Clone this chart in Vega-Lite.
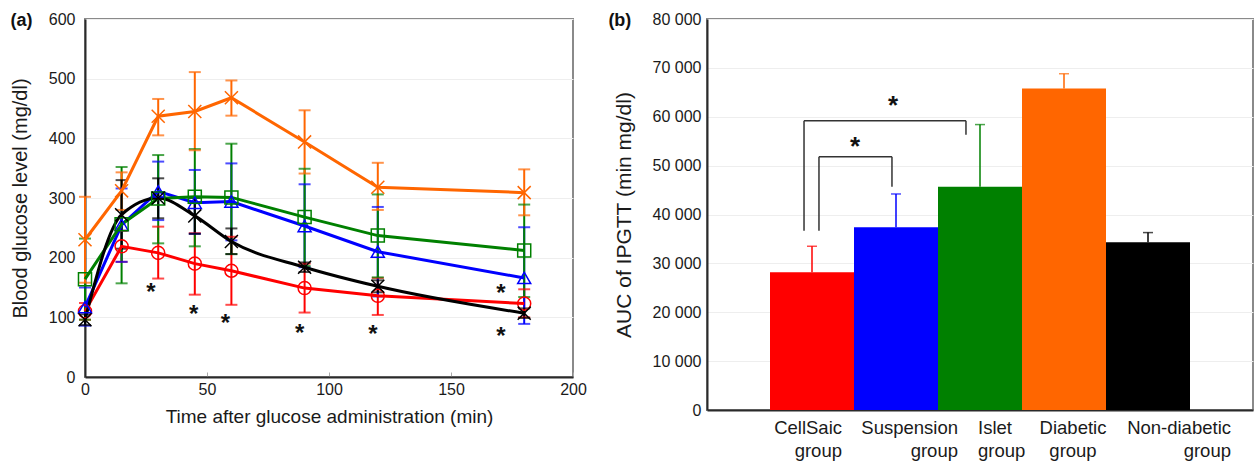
{
  "$schema": "https://vega.github.io/schema/vega-lite/v6.json",
  "background": "white",
  "padding": {"left": 9, "top": 10, "right": 0, "bottom": 0},
  "bounds": "flush",
  "spacing": 134,
  "config": {
    "font": "Liberation Sans",
    "view": {"stroke": "#8a8a8a", "strokeWidth": 2},
    "axis": {"labelFont": "Liberation Sans", "titleFont": "Liberation Sans", "labelColor": "#1a1a1a", "titleColor": "#1a1a1a", "titleFontWeight": "normal", "domainColor": "#2a2a2a", "domainWidth": 2, "gridColor": "#eeeeee", "gridWidth": 1, "labelFontSize": 16, "labelFlush": false}
  },
  "datasets": {
    "curves": [
      {"group": "CellSaic group", "time": 0, "value": 110, "lo": 96, "hi": 124},
      {"group": "CellSaic group", "time": 15, "value": 219, "lo": 193, "hi": 245},
      {"group": "CellSaic group", "time": 30, "value": 208, "lo": 165, "hi": 252},
      {"group": "CellSaic group", "time": 45, "value": 190, "lo": 138, "hi": 241},
      {"group": "CellSaic group", "time": 60, "value": 178, "lo": 121, "hi": 235},
      {"group": "CellSaic group", "time": 90, "value": 149, "lo": 108, "hi": 190},
      {"group": "CellSaic group", "time": 120, "value": 136, "lo": 104, "hi": 166},
      {"group": "CellSaic group", "time": 180, "value": 123, "lo": 100, "hi": 147},
      {"group": "Suspension group", "time": 0, "value": 117, "lo": 86, "hi": 150},
      {"group": "Suspension group", "time": 15, "value": 255, "lo": 193, "hi": 316},
      {"group": "Suspension group", "time": 30, "value": 311, "lo": 263, "hi": 361},
      {"group": "Suspension group", "time": 45, "value": 292, "lo": 240, "hi": 347},
      {"group": "Suspension group", "time": 60, "value": 294, "lo": 229, "hi": 358},
      {"group": "Suspension group", "time": 90, "value": 253, "lo": 184, "hi": 323},
      {"group": "Suspension group", "time": 120, "value": 210, "lo": 135, "hi": 285},
      {"group": "Suspension group", "time": 180, "value": 166, "lo": 89, "hi": 251},
      {"group": "Islet group", "time": 0, "value": 164, "lo": 96, "hi": 232},
      {"group": "Islet group", "time": 15, "value": 256, "lo": 157, "hi": 352},
      {"group": "Islet group", "time": 30, "value": 299, "lo": 224, "hi": 372},
      {"group": "Islet group", "time": 45, "value": 302, "lo": 219, "hi": 382},
      {"group": "Islet group", "time": 60, "value": 301, "lo": 206, "hi": 391},
      {"group": "Islet group", "time": 90, "value": 268, "lo": 186, "hi": 349},
      {"group": "Islet group", "time": 120, "value": 237, "lo": 167, "hi": 306},
      {"group": "Islet group", "time": 180, "value": 212, "lo": 134, "hi": 289},
      {"group": "Diabetic group", "time": 0, "value": 230, "lo": 158, "hi": 302},
      {"group": "Diabetic group", "time": 15, "value": 312, "lo": 280, "hi": 343},
      {"group": "Diabetic group", "time": 30, "value": 437, "lo": 405, "hi": 466},
      {"group": "Diabetic group", "time": 45, "value": 445, "lo": 380, "hi": 511},
      {"group": "Diabetic group", "time": 60, "value": 468, "lo": 438, "hi": 497},
      {"group": "Diabetic group", "time": 90, "value": 394, "lo": 341, "hi": 447},
      {"group": "Diabetic group", "time": 120, "value": 318, "lo": 280, "hi": 359},
      {"group": "Diabetic group", "time": 180, "value": 309, "lo": 271, "hi": 348},
      {"group": "Non-diabetic group", "time": 0, "value": 96, "lo": 87, "hi": 105},
      {"group": "Non-diabetic group", "time": 15, "value": 272, "lo": 215, "hi": 330},
      {"group": "Non-diabetic group", "time": 30, "value": 300, "lo": 266, "hi": 333},
      {"group": "Non-diabetic group", "time": 45, "value": 270, "lo": 240, "hi": 300},
      {"group": "Non-diabetic group", "time": 60, "value": 227, "lo": 206, "hi": 249},
      {"group": "Non-diabetic group", "time": 90, "value": 184, "lo": 176, "hi": 192},
      {"group": "Non-diabetic group", "time": 120, "value": 152, "lo": 142, "hi": 162},
      {"group": "Non-diabetic group", "time": 180, "value": 107, "lo": 99, "hi": 115}
    ],
    "stars": [
      {"time": 27, "value": 149},
      {"time": 44.5, "value": 112},
      {"time": 57.5, "value": 97},
      {"time": 88, "value": 80},
      {"time": 118, "value": 78},
      {"time": 170.5, "value": 148},
      {"time": 170.5, "value": 76}
    ],
    "bars": [
      {"group": "CellSaic group", "value": 28200, "err": 33500},
      {"group": "Suspension group", "value": 37400, "err": 44200},
      {"group": "Islet group", "value": 45700, "err": 58400},
      {"group": "Diabetic group", "value": 65800, "err": 68800},
      {"group": "Non-diabetic group", "value": 34300, "err": 36300}
    ],
    "brackets": [
      {"pair": "outer", "from": "CellSaic group", "to": "Islet group", "top": 59200, "fromEnd": 36700, "toEnd": 56300},
      {"pair": "inner", "from": "CellSaic group", "to": "Suspension group", "top": 51800, "fromEnd": 36700, "toEnd": 45700}
    ],
    "bstars": [
      {"pair": "outer", "group": "Suspension group", "value": 63400},
      {"pair": "inner", "group": "Suspension group", "value": 55000}
    ]
  },
  "hconcat": [
    {
      "width": 488,
      "height": 358,
      "layer": [
        {
          "data": {"name": "curves"},
          "mark": {"type": "rule", "strokeWidth": 2},
          "encoding": {
            "x": {"field": "time", "type": "quantitative", "title": "Time after glucose administration (min)",
              "scale": {"domain": [0, 200], "nice": false},
              "axis": {"values": [0, 50, 100, 150, 200], "grid": false, "tickSize": -5, "tickColor": "#aaaaaa", "labelPadding": 9, "titleFontSize": 19, "titlePadding": 10}},
            "y": {"field": "lo", "type": "quantitative", "title": "Blood glucose level (mg/dl)",
              "scale": {"domain": [0, 600], "nice": false},
              "axis": {"values": [0, 100, 200, 300, 400, 500, 600], "ticks": false, "labelPadding": 10, "titleFontSize": 20, "titlePadding": 18, "grid": true}},
            "y2": {"field": "hi"},
            "color": {"field": "group", "type": "nominal", "legend": null,
              "scale": {"domain": ["CellSaic group", "Suspension group", "Islet group", "Diabetic group", "Non-diabetic group"], "range": ["#ff0000", "#0000ff", "#008000", "#ff6600", "#000000"]}}
          }
        },
        {
          "data": {"name": "curves"},
          "mark": {"type": "tick", "orient": "horizontal", "size": 12, "thickness": 2},
          "encoding": {
            "x": {"field": "time", "type": "quantitative", "title": "Time after glucose administration (min)"},
            "y": {"field": "hi", "type": "quantitative", "title": "Blood glucose level (mg/dl)"},
            "color": {"field": "group", "type": "nominal", "legend": null}
          }
        },
        {
          "data": {"name": "curves"},
          "mark": {"type": "tick", "orient": "horizontal", "size": 12, "thickness": 2},
          "encoding": {
            "x": {"field": "time", "type": "quantitative", "title": "Time after glucose administration (min)"},
            "y": {"field": "lo", "type": "quantitative", "title": "Blood glucose level (mg/dl)"},
            "color": {"field": "group", "type": "nominal", "legend": null}
          }
        },
        {
          "data": {"name": "curves"},
          "transform": [{"filter": "datum.group !== 'Non-diabetic group'"}],
          "mark": {"type": "line", "strokeWidth": 3},
          "encoding": {
            "x": {"field": "time", "type": "quantitative", "title": "Time after glucose administration (min)"},
            "y": {"field": "value", "type": "quantitative", "title": "Blood glucose level (mg/dl)"},
            "color": {"field": "group", "type": "nominal", "legend": null}
          }
        },
        {
          "data": {"name": "curves"},
          "transform": [{"filter": "datum.group === 'Non-diabetic group'"}],
          "mark": {"type": "line", "strokeWidth": 3, "interpolate": "monotone"},
          "encoding": {
            "x": {"field": "time", "type": "quantitative", "title": "Time after glucose administration (min)"},
            "y": {"field": "value", "type": "quantitative", "title": "Blood glucose level (mg/dl)"},
            "color": {"field": "group", "type": "nominal", "legend": null}
          }
        },
        {
          "data": {"name": "curves"},
          "mark": {"type": "point", "filled": false, "size": 170, "strokeWidth": 1.5, "opacity": 1},
          "encoding": {
            "x": {"field": "time", "type": "quantitative", "title": "Time after glucose administration (min)"},
            "y": {"field": "value", "type": "quantitative", "title": "Blood glucose level (mg/dl)"},
            "color": {"field": "group", "type": "nominal", "legend": null},
            "shape": {"field": "group", "type": "nominal", "legend": null,
              "scale": {"domain": ["CellSaic group", "Suspension group", "Islet group", "Diabetic group", "Non-diabetic group"], "range": ["circle", "triangle-up", "square", "M-1,-1L1,1M-1,1L1,-1", "M-1,-1L1,1M-1,1L1,-1"]}}
          }
        },
        {
          "data": {"name": "stars"},
          "mark": {"type": "text", "text": "*", "fontSize": 24, "fontWeight": "bold", "baseline": "middle", "dy": 5, "color": "#111"},
          "encoding": {
            "x": {"field": "time", "type": "quantitative", "title": "Time after glucose administration (min)"},
            "y": {"field": "value", "type": "quantitative", "title": "Blood glucose level (mg/dl)"}
          }
        },
        {
          "data": {"values": [{"panel": "(a)"}]},
          "mark": {"type": "text", "fontSize": 18, "fontWeight": "bold", "baseline": "middle", "align": "left", "dy": 2, "color": "#111"},
          "encoding": {
            "x": {"datum": -30.5},
            "y": {"datum": 600},
            "text": {"field": "panel", "type": "nominal"}
          }
        },
        {
          "data": {"values": [{"panel": "(b)"}]},
          "mark": {"type": "text", "fontSize": 18, "fontWeight": "bold", "baseline": "middle", "align": "left", "dy": 2, "color": "#111"},
          "encoding": {
            "x": {"datum": 214.5},
            "y": {"datum": 600},
            "text": {"field": "panel", "type": "nominal"}
          }
        }
      ]
    },
    {
      "width": 546,
      "height": 391,
      "layer": [
        {
          "data": {"name": "bars"},
          "mark": {"type": "bar"},
          "encoding": {
            "x": {"field": "group", "type": "nominal", "title": null,
              "scale": {"domain": ["CellSaic group", "Suspension group", "Islet group", "Diabetic group", "Non-diabetic group"], "paddingInner": 0, "paddingOuter": 0.75},
              "axis": {"ticks": false, "labelPadding": 8, "labelFontSize": 18.5, "labelLineHeight": 23, "labelAngle": 0, "labelBaseline": "top", "labelOverlap": false, "labelLimit": 300,
                "labelExpr": "split(datum.label, ' ')",
                "labelAlign": {"expr": "datum.value === 'Islet group' ? 'left' : (datum.value === 'Diabetic group' ? 'center' : 'right')"},
                "labelOffset": {"expr": "datum.value === 'CellSaic group' ? 30 : (datum.value === 'Suspension group' ? 62 : (datum.value === 'Islet group' ? -2 : (datum.value === 'Diabetic group' ? 9 : 83)))"}}},
            "y": {"field": "value", "type": "quantitative", "title": "AUC of IPGTT (min mg/dl)",
              "scale": {"domain": [0, 80000], "nice": false},
              "axis": {"values": [0, 10000, 20000, 30000, 40000, 50000, 60000, 70000, 80000], "labelExpr": "replace(format(datum.value, ',d'), ',', ' ')", "ticks": false, "labelPadding": 6, "titleFontSize": 21, "titlePadding": 18, "grid": true}},
            "color": {"field": "group", "type": "nominal", "legend": null,
              "scale": {"domain": ["CellSaic group", "Suspension group", "Islet group", "Diabetic group", "Non-diabetic group"], "range": ["#ff0000", "#0000ff", "#008000", "#ff6600", "#000000"]}}
          }
        },
        {
          "data": {"name": "bars"},
          "mark": {"type": "rule", "strokeWidth": 1.5},
          "encoding": {
            "x": {"field": "group", "type": "nominal"},
            "y": {"field": "value", "type": "quantitative", "title": "AUC of IPGTT (min mg/dl)"},
            "y2": {"field": "err"},
            "color": {"field": "group", "type": "nominal", "legend": null}
          }
        },
        {
          "data": {"name": "bars"},
          "mark": {"type": "tick", "orient": "horizontal", "size": 10, "thickness": 1.5},
          "encoding": {
            "x": {"field": "group", "type": "nominal"},
            "y": {"field": "err", "type": "quantitative", "title": "AUC of IPGTT (min mg/dl)"},
            "color": {"field": "group", "type": "nominal", "legend": null}
          }
        },
        {
          "data": {"name": "brackets"},
          "transform": [{"filter": "datum.pair === 'outer'"}],
          "mark": {"type": "rule", "color": "#333333", "strokeWidth": 1.5},
          "encoding": {
            "x": {"field": "from", "type": "nominal", "bandPosition": 0.405},
            "x2": {"field": "to", "bandPosition": 0.333},
            "y": {"field": "top", "type": "quantitative", "title": "AUC of IPGTT (min mg/dl)"}
          }
        },
        {
          "data": {"name": "brackets"},
          "transform": [{"filter": "datum.pair === 'outer'"}],
          "mark": {"type": "rule", "color": "#333333", "strokeWidth": 1.5},
          "encoding": {
            "x": {"field": "from", "type": "nominal", "bandPosition": 0.405},
            "y": {"field": "top", "type": "quantitative", "title": "AUC of IPGTT (min mg/dl)"},
            "y2": {"field": "fromEnd"}
          }
        },
        {
          "data": {"name": "brackets"},
          "transform": [{"filter": "datum.pair === 'outer'"}],
          "mark": {"type": "rule", "color": "#333333", "strokeWidth": 1.5},
          "encoding": {
            "x": {"field": "to", "type": "nominal", "bandPosition": 0.333},
            "y": {"field": "top", "type": "quantitative", "title": "AUC of IPGTT (min mg/dl)"},
            "y2": {"field": "toEnd"}
          }
        },
        {
          "data": {"name": "brackets"},
          "transform": [{"filter": "datum.pair === 'inner'"}],
          "mark": {"type": "rule", "color": "#333333", "strokeWidth": 1.5},
          "encoding": {
            "x": {"field": "from", "type": "nominal", "bandPosition": 0.583},
            "x2": {"field": "to", "bandPosition": 0.452},
            "y": {"field": "top", "type": "quantitative", "title": "AUC of IPGTT (min mg/dl)"}
          }
        },
        {
          "data": {"name": "brackets"},
          "transform": [{"filter": "datum.pair === 'inner'"}],
          "mark": {"type": "rule", "color": "#333333", "strokeWidth": 1.5},
          "encoding": {
            "x": {"field": "from", "type": "nominal", "bandPosition": 0.583},
            "y": {"field": "top", "type": "quantitative", "title": "AUC of IPGTT (min mg/dl)"},
            "y2": {"field": "fromEnd"}
          }
        },
        {
          "data": {"name": "brackets"},
          "transform": [{"filter": "datum.pair === 'inner'"}],
          "mark": {"type": "rule", "color": "#333333", "strokeWidth": 1.5},
          "encoding": {
            "x": {"field": "to", "type": "nominal", "bandPosition": 0.452},
            "y": {"field": "top", "type": "quantitative", "title": "AUC of IPGTT (min mg/dl)"},
            "y2": {"field": "toEnd"}
          }
        },
        {
          "data": {"name": "bstars"},
          "transform": [{"filter": "datum.pair === 'outer'"}],
          "mark": {"type": "text", "text": "*", "fontSize": 26, "fontWeight": "bold", "baseline": "middle", "dy": 6, "color": "#111"},
          "encoding": {
            "x": {"field": "group", "type": "nominal", "bandPosition": 0.464},
            "y": {"field": "value", "type": "quantitative", "title": "AUC of IPGTT (min mg/dl)"}
          }
        },
        {
          "data": {"name": "bstars"},
          "transform": [{"filter": "datum.pair === 'inner'"}],
          "mark": {"type": "text", "text": "*", "fontSize": 26, "fontWeight": "bold", "baseline": "middle", "dy": 6, "color": "#111"},
          "encoding": {
            "x": {"field": "group", "type": "nominal", "bandPosition": 0.012},
            "y": {"field": "value", "type": "quantitative", "title": "AUC of IPGTT (min mg/dl)"}
          }
        }
      ]
    }
  ]
}
